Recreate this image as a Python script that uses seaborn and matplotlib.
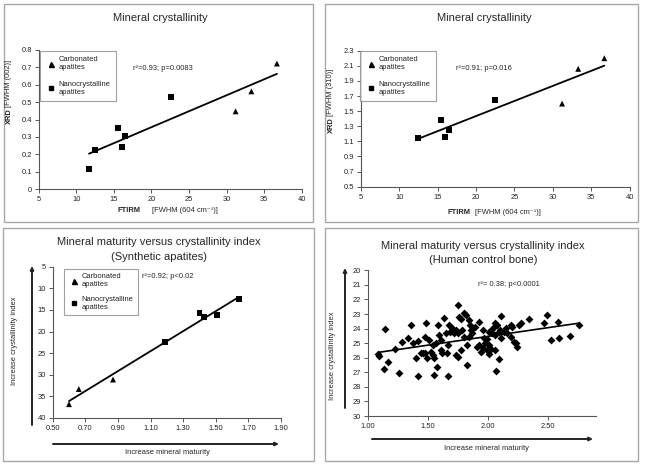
import matplotlib
matplotlib.use('Agg')
import matplotlib.pyplot as plt
import seaborn as sns
import numpy as np
import pandas as pd
from matplotlib.patches import Rectangle, FancyArrowPatch
from matplotlib.lines import Line2D

# ---------------- data ----------------
p1_carb_x = [31.2, 33.3, 36.7]
p1_carb_y = [0.447, 0.562, 0.722]
p1_nano_x = [11.7, 12.5, 15.6, 16.1, 16.5, 22.6]
p1_nano_y = [0.113, 0.225, 0.349, 0.244, 0.307, 0.530]

p2_carb_x = [31.2, 33.3, 36.7]
p2_carb_y = [1.60, 2.06, 2.20]
p2_nano_x = [12.4, 15.5, 16.0, 16.5, 22.5]
p2_nano_y = [1.14, 1.38, 1.16, 1.25, 1.65]

p3_carb_x = [0.60, 0.66, 0.87]
p3_carb_y = [36.8, 33.3, 31.1]
p3_nano_x = [1.19, 1.40, 1.43, 1.51, 1.64]
p3_nano_y = [22.5, 15.7, 16.7, 16.1, 12.5]

p4_x = [1.144, 1.086, 1.094, 1.163, 1.135, 1.227, 1.260, 1.282, 1.335, 1.357, 1.371, 1.400,
        1.420, 1.418, 1.440, 1.455, 1.476, 1.476, 1.487, 1.480,
        1.753, 1.510, 1.537, 1.523, 1.540, 1.579, 1.592, 1.606, 1.565, 1.550, 1.606, 1.615,
        1.634, 1.648, 1.662, 1.654, 1.675, 1.681, 1.573, 1.551, 1.667, 1.703, 1.717, 1.731,
        1.745, 1.731, 1.745, 1.772, 1.758, 1.772, 1.800, 1.814, 1.786, 1.800, 1.828, 1.820,
        1.841, 1.850, 1.855, 1.841, 1.869, 1.891, 1.924, 1.911, 1.924, 1.939, 1.961, 1.966,
        1.953, 1.975, 1.994,
        2.105, 1.990, 2.010, 2.020, 2.050, 2.060, 2.077, 2.035, 2.060, 2.090, 2.100, 2.010,
        2.020, 2.060, 2.010, 2.105, 2.132, 2.146, 2.160, 2.188, 2.200, 2.188, 2.215, 2.230,
        2.237, 2.257, 2.270, 2.340, 2.090, 2.063, 2.464, 2.490,
        2.584, 2.520, 2.590, 2.678, 2.760]
p4_y = [24.03, 25.77, 25.88, 26.27, 26.78, 25.42, 27.05, 24.90, 24.67, 23.75, 25.01, 26.00,
        27.23, 24.83, 25.66, 25.70, 25.66, 24.56, 26.04, 23.64,
        22.38, 24.78, 25.13, 25.59, 25.81, 23.75, 24.44, 24.78, 25.01, 26.04, 25.47, 25.70,
        23.30, 24.33, 25.13, 25.70, 23.75, 24.21, 26.66, 27.19, 27.25, 23.98, 24.33, 24.10,
        24.33, 25.81, 25.93, 25.47, 23.18, 23.36, 22.95, 23.07, 24.10, 24.56, 25.13, 26.50,
        23.41, 23.75, 24.10, 24.56, 24.33, 23.87, 23.53, 25.24, 25.13, 25.59, 24.10, 24.67,
        25.36, 25.01, 25.47,
        23.14, 24.70, 24.21, 24.10, 23.87, 23.64, 23.75, 24.33, 24.44, 24.21, 24.10, 25.13,
        25.43, 25.47, 25.75, 24.67, 24.21, 23.98, 24.33, 23.75, 23.87, 24.56, 24.90, 25.01,
        25.24, 23.75, 23.64, 23.36, 26.11, 26.89, 23.60, 23.07,
        23.57, 24.78, 24.67, 24.49, 23.75]

carb_label = 'Carbonated\napatites'
nano_label = 'Nanocrystalline\napatites'

p1_xticks = [5, 10, 15, 20, 25, 30, 35, 40]
p1_yticks = [0, 0.1, 0.2, 0.3, 0.4, 0.5, 0.6, 0.7, 0.8]
p2_yticks = [0.5, 0.7, 0.9, 1.1, 1.3, 1.5, 1.7, 1.9, 2.1, 2.3]
p3_xticks = [0.50, 0.70, 0.90, 1.10, 1.30, 1.50, 1.70, 1.90]
p3_yticks = [5, 10, 15, 20, 25, 30, 35, 40]
p4_xticks = [1.00, 1.50, 2.00, 2.50]
p4_yticks = list(range(20, 31))

# ---------------- style ----------------
sns.set_theme(style='white')
plt.rcParams['font.family'] = ['Liberation Sans', 'DejaVu Sans']

W, H = 646, 466
fig = plt.figure(figsize=(W / 100, H / 100), dpi=100)
fig.patch.set_facecolor('white')

TICK_FS = 5.4
SMALL_FS = 5.4
TITLE_FS = 8.0
AXC = '#555555'


def fx(px):
    return px / W


def fy(py):
    return 1 - py / H


def make_axes(l, t, r, b):
    ax = fig.add_axes([l / W, 1 - b / H, (r - l) / W, (b - t) / H])
    ax.set_facecolor('none')
    for s in ['top', 'right']:
        ax.spines[s].set_visible(False)
    for s in ['left', 'bottom']:
        ax.spines[s].set_color(AXC)
        ax.spines[s].set_linewidth(0.8)
    ax.tick_params(axis='both', direction='out', length=3, width=0.7, color=AXC,
                   labelsize=TICK_FS, pad=2, left=True, bottom=True, labelcolor='#222222')
    return ax


def box(l, t, r, b):
    fig.patches.append(Rectangle((fx(l), fy(b)), (r - l) / W, (b - t) / H,
                                 transform=fig.transFigure, fill=False,
                                 ec='#a8a8a8', lw=1.0))


def arrow(x0, y0, x1, y1):
    fig.add_artist(FancyArrowPatch((fx(x0), fy(y0)), (fx(x1), fy(y1)),
                                   transform=fig.transFigure, arrowstyle='-|>',
                                   mutation_scale=5, lw=1.4, color='#222222',
                                   shrinkA=0, shrinkB=0))


def two_series(ax, cx, cy, nx, ny, ms=18):
    df = pd.DataFrame({'x': list(cx) + list(nx), 'y': list(cy) + list(ny),
                       'group': [carb_label] * len(cx) + [nano_label] * len(nx)})
    sns.regplot(data=df, x='x', y='y', scatter=False, ci=None, ax=ax,
                line_kws=dict(color='black', lw=1.3))
    sns.scatterplot(data=df, x='x', y='y', style='group',
                    markers={carb_label: '^', nano_label: 's'},
                    color='black', s=ms, linewidth=0, ax=ax, legend=False)
    ax.set_xlabel('')
    ax.set_ylabel('')


def legend(ax, l, t, spacing=1.25, pad=0.7):
    handles = [Line2D([], [], marker='^', ls='none', color='black', markersize=3.6),
               Line2D([], [], marker='s', ls='none', color='black', markersize=3.2)]
    leg = ax.legend(handles, [carb_label, nano_label], loc='upper left',
                    bbox_to_anchor=(fx(l), fy(t)), bbox_transform=fig.transFigure,
                    frameon=True, fancybox=False, fontsize=SMALL_FS,
                    handlelength=1.5, handletextpad=0.3, borderpad=pad,
                    labelspacing=spacing, borderaxespad=0)
    fr = leg.get_frame()
    fr.set_edgecolor('#888888')
    fr.set_linewidth(0.8)
    fr.set_facecolor('white')
    for t_ in leg.get_texts():
        t_.set_color('#222222')


# ---------------- panel 1 ----------------
box(4, 4, 313, 222)
ax1 = make_axes(38.7, 50, 301.7, 189)
two_series(ax1, p1_carb_x, p1_carb_y, p1_nano_x, p1_nano_y)
ax1.set_xlim(5, 40)
ax1.set_ylim(0, 0.8)
ax1.set_xticks(p1_xticks)
ax1.set_yticks(p1_yticks)
ax1.set_yticklabels([f'{v:g}' for v in p1_yticks])
legend(ax1, 40, 51)
fig.text(fx(160), fy(18), 'Mineral crystallinity', ha='center', va='center', fontsize=TITLE_FS)
fig.text(fx(133), fy(68), 'r²=0.93; p=0.0083', ha='left', va='center', fontsize=SMALL_FS)
fig.text(fx(140), fy(211), 'FTIRM', ha='right', va='center', fontsize=SMALL_FS, fontweight='bold')
fig.text(fx(152), fy(211), '[FWHM (604 cm⁻¹)]', ha='left', va='center', fontsize=SMALL_FS)
fig.text(fx(9), fy(124), 'XRD', ha='center', va='bottom', rotation=90, fontsize=SMALL_FS,
         fontweight='bold')
fig.text(fx(9), fy(107), '[FWHM (002)]', ha='center', va='bottom', rotation=90, fontsize=SMALL_FS)

# ---------------- panel 2 ----------------
box(325, 4, 638, 222)
ax2 = make_axes(360.7, 50.7, 629.7, 186.7)
two_series(ax2, p2_carb_x, p2_carb_y, p2_nano_x, p2_nano_y)
ax2.set_xlim(5, 40)
ax2.set_ylim(0.5, 2.3)
ax2.set_xticks(p1_xticks)
ax2.set_yticks(p2_yticks)
ax2.set_yticklabels([f'{v:g}' for v in p2_yticks])
legend(ax2, 360, 51)
fig.text(fx(484), fy(18), 'Mineral crystallinity', ha='center', va='center', fontsize=TITLE_FS)
fig.text(fx(456), fy(68), 'r²=0.91; p=0.016', ha='left', va='center', fontsize=SMALL_FS)
fig.text(fx(470), fy(213), 'FTIRM', ha='right', va='center', fontsize=SMALL_FS, fontweight='bold')
fig.text(fx(475), fy(213), '[FWHM (604 cm⁻¹)]', ha='left', va='center', fontsize=SMALL_FS)
fig.text(fx(331), fy(133), 'XRD', ha='center', va='bottom', rotation=90, fontsize=SMALL_FS,
         fontweight='bold')
fig.text(fx(331), fy(116), '[FWHM (310)]', ha='center', va='bottom', rotation=90, fontsize=SMALL_FS)

# ---------------- panel 3 ----------------
box(3, 228, 314, 461)
ax3 = make_axes(52.7, 266.7, 281, 418)
two_series(ax3, p3_carb_x, p3_carb_y, p3_nano_x, p3_nano_y)
ax3.set_xlim(0.5, 1.9)
ax3.set_ylim(40, 5)
ax3.set_xticks(p3_xticks)
ax3.set_xticklabels([f'{v:.2f}' for v in p3_xticks])
ax3.set_yticks(p3_yticks)
legend(ax3, 64, 269, spacing=1.05, pad=0.55)
fig.text(fx(159), fy(242), 'Mineral maturity versus crystallinity index', ha='center',
         va='center', fontsize=TITLE_FS)
fig.text(fx(159), fy(257), '(Synthetic apatites)', ha='center', va='center', fontsize=TITLE_FS)
fig.text(fx(142), fy(277), 'r²=0.92; p<0.02', ha='left', va='center', fontsize=SMALL_FS)
fig.text(fx(15), fy(341), 'Increase crystallinity index', ha='center', va='center',
         rotation=90, fontsize=SMALL_FS)
fig.text(fx(167), fy(452), 'Increase mineral maturity', ha='center', va='center',
         fontsize=SMALL_FS)
arrow(32, 425, 32, 266)
arrow(53, 444, 279, 444)

# ---------------- panel 4 ----------------
box(325, 228, 638, 461)
ax4 = make_axes(368, 270.3, 596.3, 416)
df4 = pd.DataFrame({'maturity': p4_x, 'crystallinity': p4_y})
sns.regplot(data=df4, x='maturity', y='crystallinity', scatter=False, ci=None, ax=ax4,
            line_kws=dict(color='black', lw=1.2))
sns.scatterplot(data=df4, x='maturity', y='crystallinity', marker='D', color='black',
                s=16, linewidth=0, ax=ax4)
ax4.set_xlabel('')
ax4.set_ylabel('')
ax4.set_xlim(1.0, 2.9)
ax4.set_ylim(30, 20)
ax4.set_xticks(p4_xticks)
ax4.set_xticklabels([f'{v:.2f}' for v in p4_xticks])
ax4.set_yticks(p4_yticks)
fig.text(fx(483), fy(246), 'Mineral maturity versus crystallinity index', ha='center',
         va='center', fontsize=TITLE_FS)
fig.text(fx(483), fy(260), '(Human control bone)', ha='center', va='center', fontsize=TITLE_FS)
fig.text(fx(478), fy(284), 'r²= 0.38; p<0.0001', ha='left', va='center', fontsize=SMALL_FS)
fig.text(fx(332), fy(356), 'Increase crystallinity index', ha='center', va='center',
         rotation=90, fontsize=SMALL_FS)
fig.text(fx(486), fy(448), 'Increase mineral maturity', ha='center', va='center',
         fontsize=SMALL_FS)
arrow(345, 408, 345, 268)
arrow(372, 439, 593, 439)

fig.savefig('out.png', dpi=100, facecolor='white')
